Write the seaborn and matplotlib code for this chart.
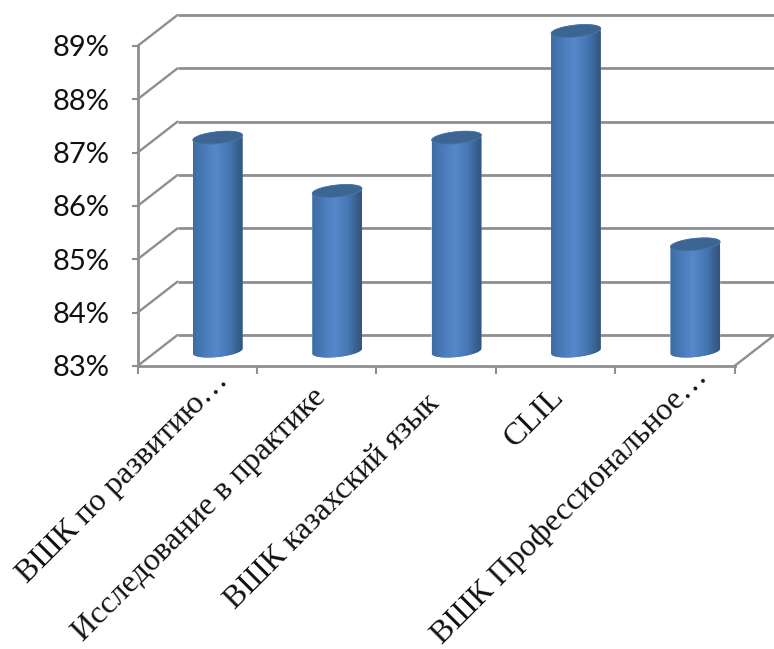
import numpy as np
import matplotlib
matplotlib.use("Agg")
import matplotlib.pyplot as plt
import seaborn as sns
from matplotlib.path import Path
from matplotlib.patches import PathPatch
from matplotlib.transforms import Affine2D, IdentityTransform
from matplotlib.colors import to_rgb

categories = ["ВШК по развитию…", "Исследование в практике", "ВШК казахский язык",
              "CLIL", "ВШК Профессиональное…"]
values = [87, 86, 87, 89, 85]
y_ticks = [83, 84, 85, 86, 87, 88, 89]
y_tick_labels = ["83%", "84%", "85%", "86%", "87%", "88%", "89%"]

W, H = 774, 649
sns.set_style("white")
plt.rcParams["font.family"] = ["Lato", "DejaVu Sans"]

fig = plt.figure(figsize=(W / 100, H / 100), dpi=100)
ax = fig.add_axes([137.5 / W, (H - 366) / H, 597 / W, 320 / H])
sns.barplot(x=categories, y=values, color="#4f81bd", saturation=1, width=0.42, ax=ax, zorder=3)
ax.set_ylim(83, 89)
ax.set_xlim(-0.5, 4.5)
xl = ax.get_xlim()

GRID = "#8e8e8e"
back = ax.transData + Affine2D().translate(40, 31)
for v in y_ticks:
    ax.plot(xl, [v, v], transform=back, color=GRID, lw=2.0, clip_on=False, zorder=1,
            solid_capstyle="butt")
    x0, y0 = ax.transData.transform((xl[0], v))
    ax.plot([x0, x0 + 40], [y0, y0 + 31], transform=IdentityTransform(), color=GRID, lw=1.7,
            clip_on=False, zorder=1)
x0, y0 = ax.transData.transform((xl[1], 83))
ax.plot([x0, x0 + 40], [y0, y0 + 31], transform=IdentityTransform(), color=GRID, lw=1.7,
        clip_on=False, zorder=1)

# cylinders
A, B, TILT = 25.0, 6.0, np.deg2rad(6)
SHIFT = Affine2D().translate(20.5, 15)
to_px = ax.transData + SHIFT
stops_x = [0, 0.12, 0.45, 0.72, 0.92, 1]
stops_c = ["#3e6ba3", "#4474af", "#5688cb", "#4677b3", "#375d8a", "#32557f"]
grad = np.array([[np.interp(np.linspace(0, 1, 200), stops_x, [to_rgb(c)[k] for c in stops_c])
                  for k in range(3)]]).squeeze().T[None, :, :]


def ell(cx, cy, t):
    x = A * np.cos(t) * np.cos(TILT) - B * np.sin(t) * np.sin(TILT)
    y = A * np.cos(t) * np.sin(TILT) + B * np.sin(t) * np.cos(TILT)
    return np.column_stack([cx + x, cy + y])


for patch, val in zip(ax.patches, values):
    xc = patch.get_x() + patch.get_width() / 2
    cx, top = to_px.transform((xc, val))
    _, base = to_px.transform((xc, 83))
    low = ell(cx, base, np.linspace(np.pi, 2 * np.pi, 60))
    up = ell(cx, top, np.linspace(0, np.pi, 60))
    body = Path(np.vstack([low, up, low[:1]]), closed=True)
    patch.set_transform(ax.transData + SHIFT)
    patch.set_clip_box(fig.bbox)
    patch.set_clip_path(body, IdentityTransform())
    im = ax.imshow(grad, extent=[cx - A, cx + A, base - 12, top + 12], transform=IdentityTransform(),
                   aspect="auto", zorder=4, interpolation="bilinear")
    im.set_clip_box(fig.bbox)
    im.set_clip_path(body, IdentityTransform())
    cap = Path(ell(cx, top, np.linspace(0, 2 * np.pi, 120)), closed=True)
    ax.add_patch(PathPatch(cap, transform=IdentityTransform(), facecolor="#3d6593",
                           edgecolor="#4a76aa", lw=0.6, zorder=5, clip_on=False))
ax.set_xlim(*xl)
ax.set_ylim(83, 89)
ax.set_aspect("auto")

for s in ["top", "right"]:
    ax.spines[s].set_visible(False)
for s in ["left", "bottom"]:
    ax.spines[s].set_color(GRID)
    ax.spines[s].set_linewidth(2.0)

ax.set_yticks(y_ticks)
ax.set_yticklabels(y_tick_labels, fontsize=21, color="#111111")
ax.tick_params(axis="y", left=True, length=4, width=1.5, color=GRID, pad=16)
ax.set_xticks(range(len(categories)))
ax.set_xticklabels(categories, rotation=45, ha="right", va="top", rotation_mode="anchor",
                   family=["Liberation Serif"], fontsize=23, color="#111111")
ax.tick_params(axis="x", bottom=False, pad=0)
ax.set_xticks(np.arange(xl[0], xl[1] + 0.01, 1), minor=True)
ax.tick_params(axis="x", which="minor", bottom=True, length=6, width=1.5, color=GRID)
label_dx = [17, -5, -11, -6, 18]
label_dy = [5, -12, -18, -11, 8]
for lab, dx, dy in zip(ax.get_xticklabels(), label_dx, label_dy):
    lab.set_transform(lab.get_transform() + Affine2D().translate(dx, dy))

fig.savefig("out.png", dpi=100)
